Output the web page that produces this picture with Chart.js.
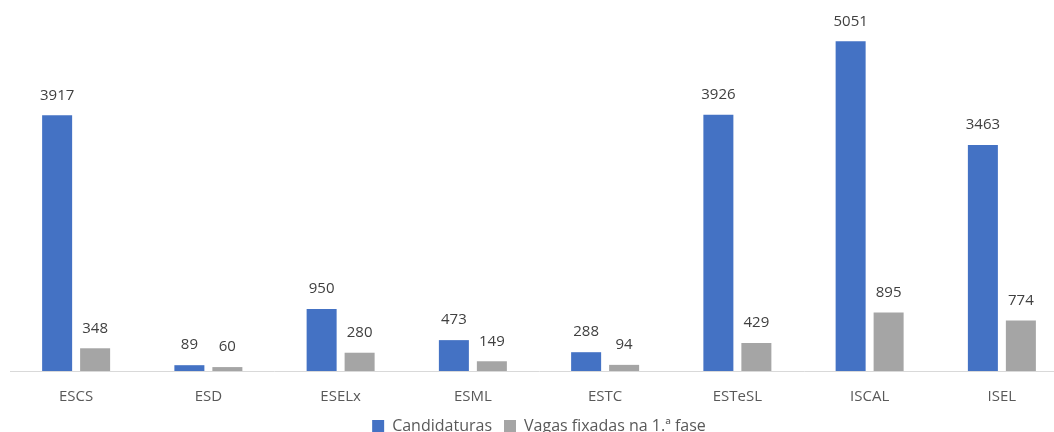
<!DOCTYPE html>
<html>
<head>
<meta charset="utf-8">
<script src="https://cdn.jsdelivr.net/npm/chart.js@4"></script>
<style>
  html, body { margin: 0; padding: 0; background: #fff; }
  #frame { width: 1054px; height: 432px; overflow: hidden; }
  #wrap { width: 1068px; height: 444px; position: relative; }
</style>
</head>
<body>
<div id="frame"><div id="wrap"><canvas id="myChart"></canvas></div></div>
<script>
const categories = ['ESCS', 'ESD', 'ESELx', 'ESML', 'ESTC', 'ESTeSL', 'ISCAL', 'ISEL'];
const candidaturas = [3917, 89, 950, 473, 288, 3926, 5051, 3463];
const vagas = [348, 60, 280, 149, 94, 429, 895, 774];

const FONT = "'Open Sans', 'Noto Sans', sans-serif";

// draws the value above each bar
const valueLabels = {
  id: 'valueLabels',
  afterDatasetsDraw(chart) {
    const ctx = chart.ctx;
    ctx.save();
    ctx.font = '15px ' + FONT;
    ctx.fillStyle = '#404040';
    ctx.textAlign = 'center';
    ctx.textBaseline = 'middle';
    chart.data.datasets.forEach((ds, i) => {
      chart.getDatasetMeta(i).data.forEach((bar, j) => {
        ctx.fillText(String(ds.data[j]), bar.x, bar.y - 20);
      });
    });
    ctx.restore();
  }
};

const ctx = document.getElementById('myChart');
new Chart(ctx, {
  type: 'bar',
  data: {
    labels: categories,
    datasets: [{
      label: 'Candidaturas',
      data: candidaturas,
      backgroundColor: '#4472C4',
      categoryPercentage: 0.5745,
      barPercentage: 0.79
    }, {
      label: 'Vagas fixadas na 1.ª fase',
      data: vagas,
      backgroundColor: '#A5A5A5',
      categoryPercentage: 0.5745,
      barPercentage: 0.79
    }]
  },
  options: {
    responsive: true,
    maintainAspectRatio: false,
    animation: false,
    layout: { padding: { top: 12, left: 10, right: 0, bottom: 0 } },
    scales: {
      x: {
        grid: { display: false, drawTicks: false },
        border: { display: true, color: '#D9D9D9', width: 1 },
        ticks: { color: '#595959', font: { family: FONT, size: 15 }, padding: 17 },
        afterFit(scale) { scale.height -= 17; }
      },
      y: {
        display: false,
        min: 0,
        max: 5500
      }
    },
    plugins: {
      legend: {
        position: 'bottom',
        labels: {
          color: '#595959',
          font: { family: FONT, size: 16 },
          boxWidth: 12,
          boxHeight: 12,
          padding: 12
        }
      },
      tooltip: { enabled: false }
    }
  },
  plugins: [valueLabels]
});
</script>
</body>
</html>
